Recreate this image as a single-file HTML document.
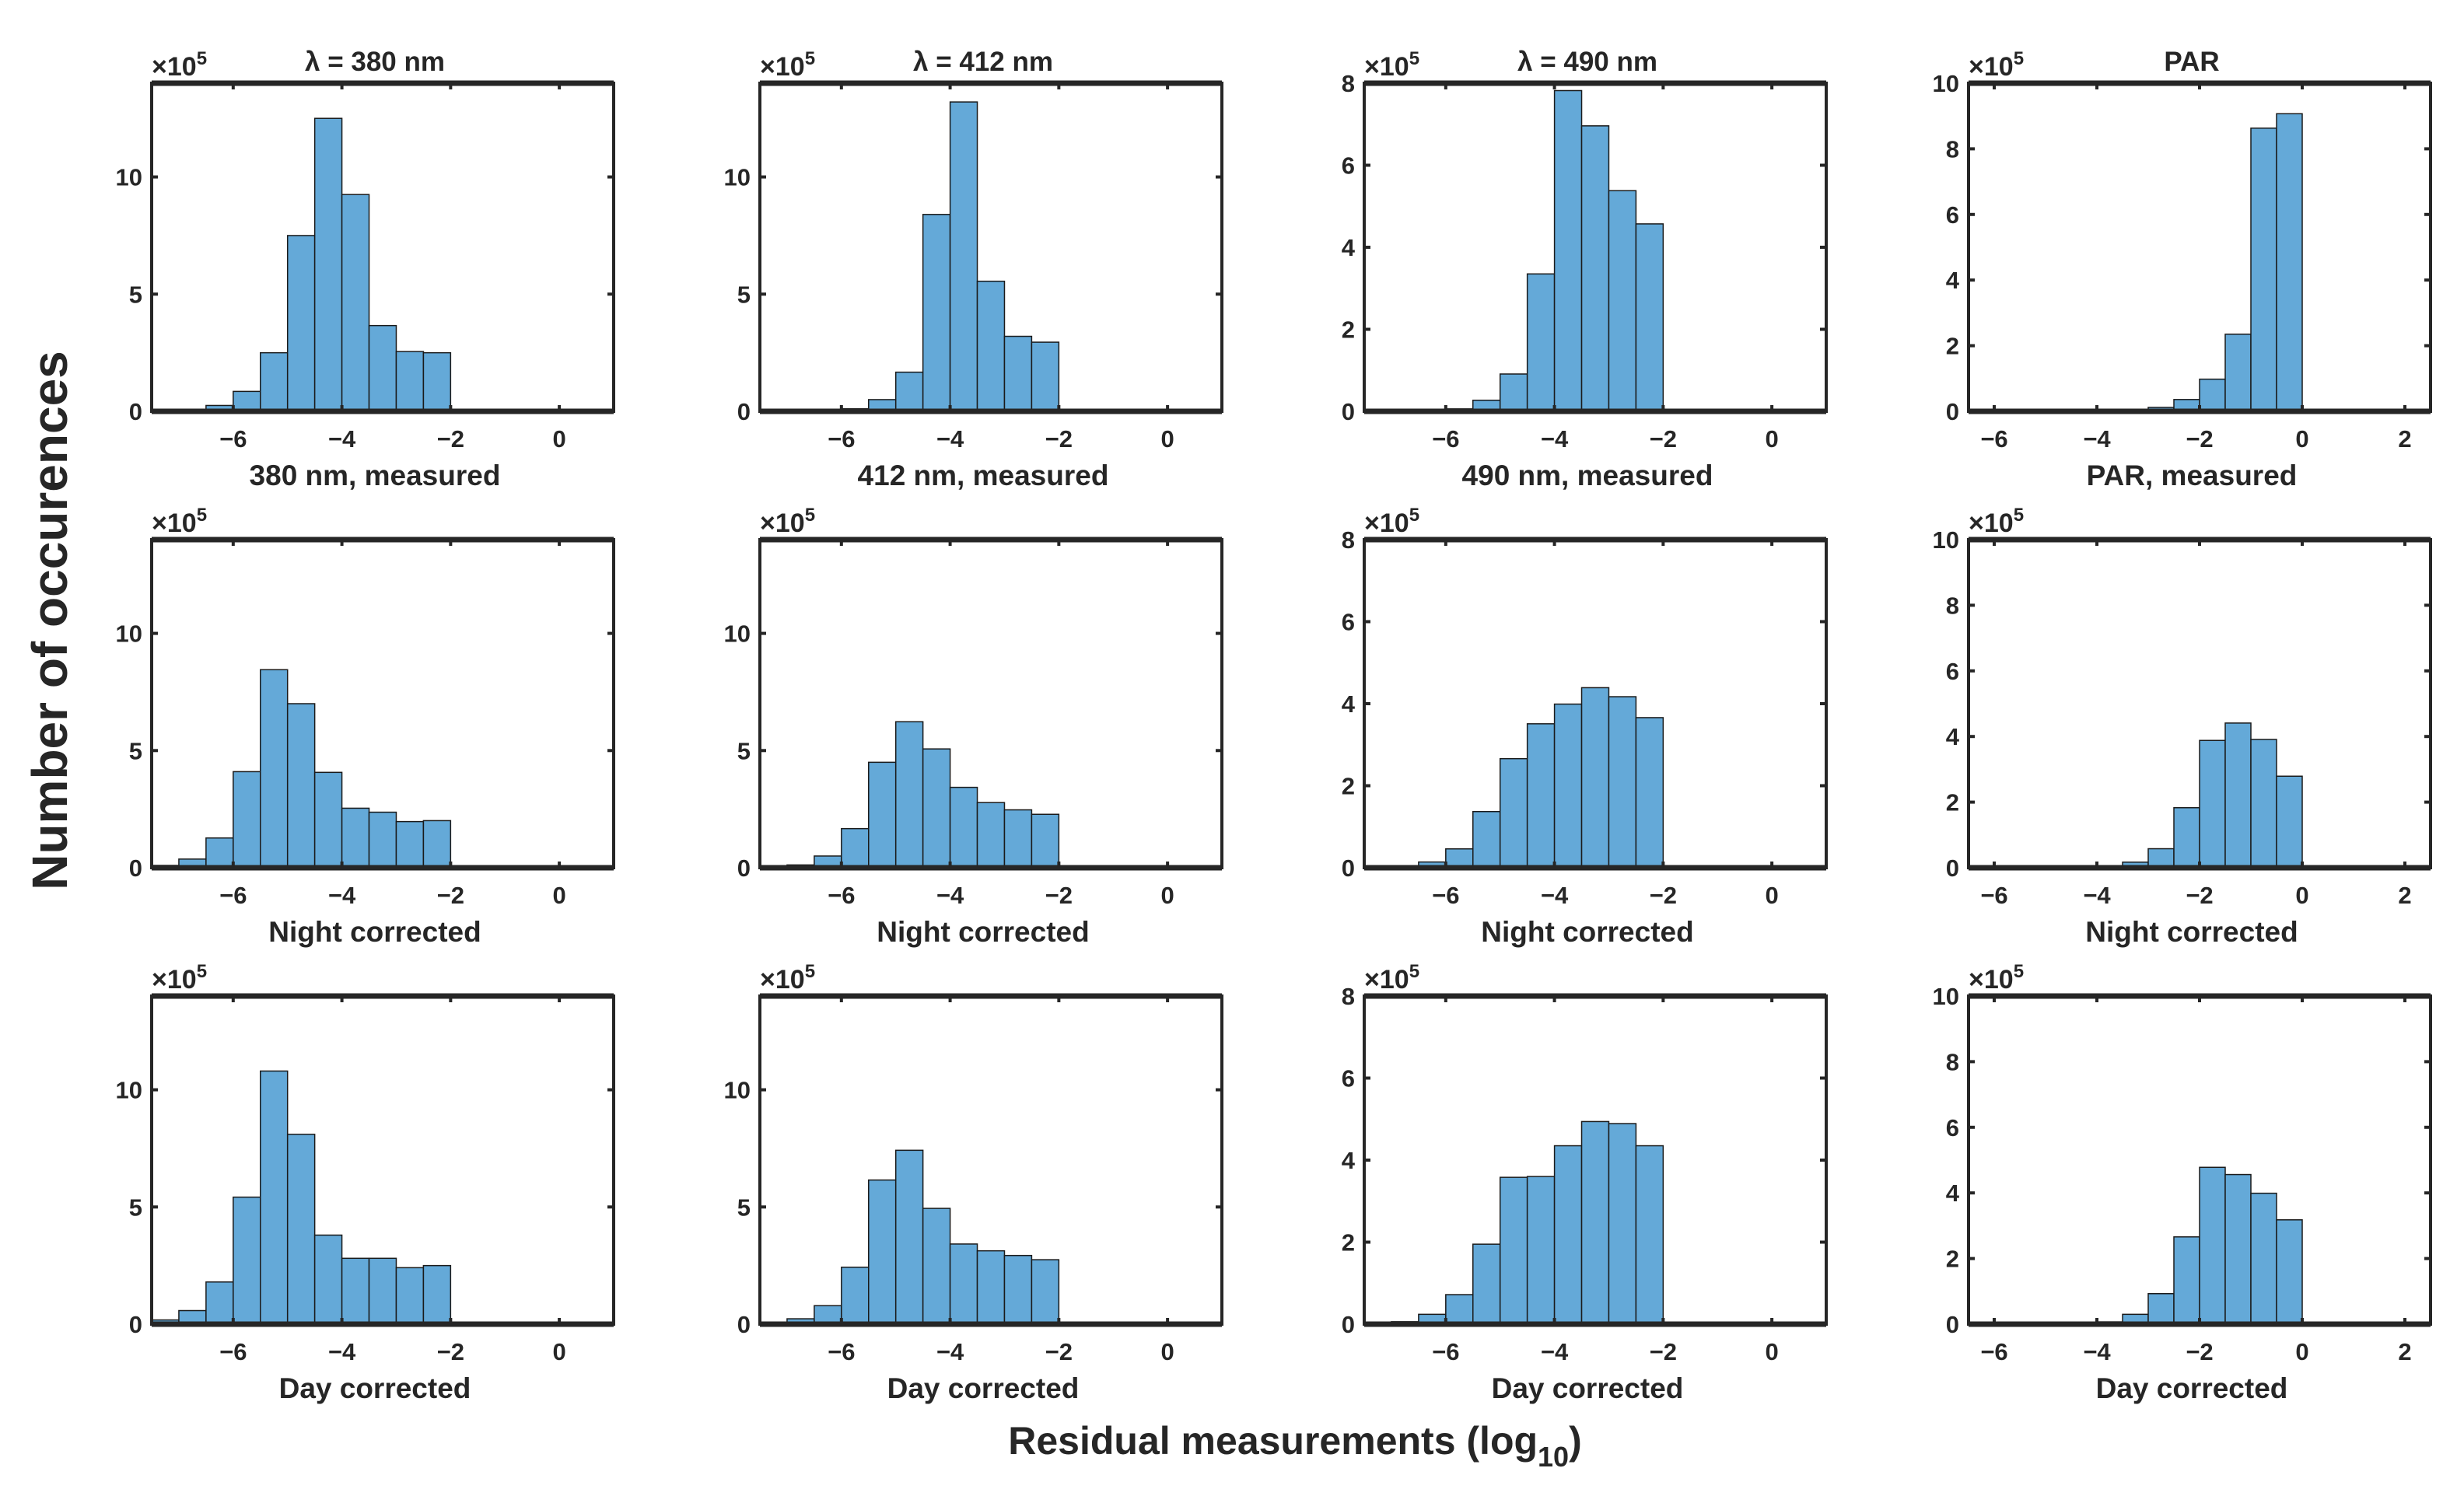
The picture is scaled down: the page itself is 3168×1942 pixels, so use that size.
<!DOCTYPE html>
<html><head><meta charset="utf-8">
<style>
html,body{margin:0;padding:0;background:#fff;}
svg{display:block;}
text{font-family:"Liberation Sans",sans-serif;font-weight:bold;fill:#262626;}
</style></head>
<body>
<svg id="fig" width="3168" height="1942" viewBox="0 0 3168 1942" xmlns="http://www.w3.org/2000/svg">
<text x="69" y="798" font-size="64" text-anchor="middle" dominant-baseline="middle" transform="rotate(-90 69 798)">Number of occurences</text>
<text x="1665" y="1870" font-size="50" text-anchor="middle">Residual measurements (log<tspan font-size="36" dy="16">10</tspan><tspan dy="-16">)</tspan></text>
</svg>
<script>
// bin edges are 0.5 wide; each panel stores first bin start and counts (x1e5)
const r1c1Start = -7,   r1c1Values = [0.07,0.25,0.85,2.5,7.5,12.5,9.25,3.66,2.55,2.5];
const r1c2Start = -6.5, r1c2Values = [0.03,0.11,0.5,1.67,8.4,13.2,5.55,3.2,2.95];
const r1c3Start = -6.5, r1c3Values = [0.02,0.06,0.27,0.91,3.35,7.82,6.96,5.38,4.57];
const r1c4Start = -3.5, r1c4Values = [0.02,0.12,0.36,0.98,2.35,8.63,9.07];
const r2c1Start = -7.5, r2c1Values = [0.1,0.37,1.27,4.1,8.45,7.0,4.07,2.54,2.37,1.97,2.01];
const r2c2Start = -7.5, r2c2Values = [0.03,0.12,0.5,1.67,4.5,6.23,5.07,3.43,2.78,2.47,2.28];
const r2c3Start = -7,   r2c3Values = [0.04,0.14,0.46,1.37,2.66,3.51,3.99,4.39,4.17,3.66];
const r2c4Start = -4,   r2c4Values = [0.05,0.17,0.58,1.83,3.88,4.41,3.91,2.79];
const r3c1Start = -7.5, r3c1Values = [0.18,0.58,1.8,5.42,10.8,8.1,3.8,2.81,2.81,2.41,2.5];
const r3c2Start = -7.5, r3c2Values = [0.05,0.23,0.79,2.43,6.15,7.42,4.94,3.42,3.13,2.93,2.75];
const r3c3Start = -7,   r3c3Values = [0.06,0.24,0.72,1.95,3.58,3.6,4.35,4.94,4.89,4.35];
const r3c4Start = -4,   r3c4Values = [0.07,0.3,0.93,2.66,4.78,4.56,3.99,3.18,0.02];
const binWidth = 0.5;
const xTicksA = [-6,-4,-2,0];
const xTicksB = [-6,-4,-2,0,2];
const yTicks14 = [0,5,10];
const yTicks8 = [0,2,4,6,8];
const yTicks10 = [0,2,4,6,8,10];
const colTitles = ["λ = 380 nm","λ = 412 nm","λ = 490 nm","PAR"];
const row1Labels = ["380 nm, measured","412 nm, measured","490 nm, measured","PAR, measured"];
const rowLabels = ["Night corrected","Day corrected"];

const svg = document.getElementById('fig');
const NS = 'http://www.w3.org/2000/svg';
function mk(tag, attrs){const e=document.createElementNS(NS,tag);for(const k in attrs)e.setAttribute(k,attrs[k]);return e;}

const lefts=[195,977,1754,2531], W=594;
const tops=[107,694,1281], H=422;
const colCfg=[
 {xmin:-7.5,xmax:1,xt:xTicksA,ymax:14,yt:yTicks14},
 {xmin:-7.5,xmax:1,xt:xTicksA,ymax:14,yt:yTicks14},
 {xmin:-7.5,xmax:1,xt:xTicksA,ymax:8,yt:yTicks8},
 {xmin:-6.5,xmax:2.5,xt:xTicksB,ymax:10,yt:yTicks10}];
const data=[
 [[r1c1Start,r1c1Values],[r1c2Start,r1c2Values],[r1c3Start,r1c3Values],[r1c4Start,r1c4Values]],
 [[r2c1Start,r2c1Values],[r2c2Start,r2c2Values],[r2c3Start,r2c3Values],[r2c4Start,r2c4Values]],
 [[r3c1Start,r3c1Values],[r3c2Start,r3c2Values],[r3c3Start,r3c3Values],[r3c4Start,r3c4Values]]];

for(let r=0;r<3;r++){for(let c=0;c<4;c++){
 const cfg=colCfg[c], L=lefts[c], T=tops[r], B=T+H, R=L+W;
 const xs=v=>L+(v-cfg.xmin)/(cfg.xmax-cfg.xmin)*W;
 const ys=v=>B-v/cfg.ymax*H;
 const g=mk('g',{});
 
 
 svg.appendChild(g);
 const [start,vals]=data[r][c];
 vals.forEach((v,i)=>{
  const x0=xs(start+i*binWidth), x1=xs(start+(i+1)*binWidth);
  const rect=mk('rect',{x:x0,y:ys(v),width:x1-x0,height:B-ys(v),fill:'#64a9d8',stroke:'#1a1a1a','stroke-width':1.5});
  
  
  g.appendChild(rect);
 });
 const fr=mk('rect',{x:L,y:T,width:W,height:H,fill:'none',stroke:'#262626','stroke-width':4});
 
 
 g.appendChild(fr);
 g.appendChild(mk('line',{x1:L,y1:T,x2:R,y2:T,stroke:'#262626','stroke-width':7}));
 g.appendChild(mk('line',{x1:L,y1:B,x2:R,y2:B,stroke:'#262626','stroke-width':7}));
 cfg.xt.forEach(t=>{
  const x=xs(t);
  g.appendChild(mk('line',{x1:x,y1:B,x2:x,y2:B-8,stroke:'#262626','stroke-width':4}));
  g.appendChild(mk('line',{x1:x,y1:T,x2:x,y2:T+8,stroke:'#262626','stroke-width':4}));
  const tx=mk('text',{x:x,y:B+46,'font-size':31,'text-anchor':'middle'});
  
  
  tx.textContent=(t<0?'\u2212':'')+Math.abs(t);
  g.appendChild(tx);
 });
 cfg.yt.forEach(t=>{
  const y=ys(t);
  g.appendChild(mk('line',{x1:L,y1:y,x2:L+8,y2:y,stroke:'#262626','stroke-width':4}));
  g.appendChild(mk('line',{x1:R,y1:y,x2:R-8,y2:y,stroke:'#262626','stroke-width':4}));
  const ty=mk('text',{x:L-12,y:y+11,'font-size':31,'text-anchor':'end'});
  
  
  ty.textContent=t;
  g.appendChild(ty);
 });
 const ex=mk('text',{x:L,y:T-10,'font-size':34,'font-weight':'normal'});
 
 
 ex.innerHTML='×10<tspan font-size="24" dy="-14">5</tspan>';
 g.appendChild(ex);
 const xl=mk('text',{x:L+W/2-10,y:B+95,'font-size':37,'text-anchor':'middle'});
 
 
 xl.textContent= r===0?row1Labels[c]:rowLabels[r-1];
 g.appendChild(xl);
 if(r===0){
  const tt=mk('text',{x:L+W/2-10,y:T-16,'font-size':35,'text-anchor':'middle'});
  
  
  tt.textContent=colTitles[c];
  g.appendChild(tt);
 }
}}
</script>
</body></html>
